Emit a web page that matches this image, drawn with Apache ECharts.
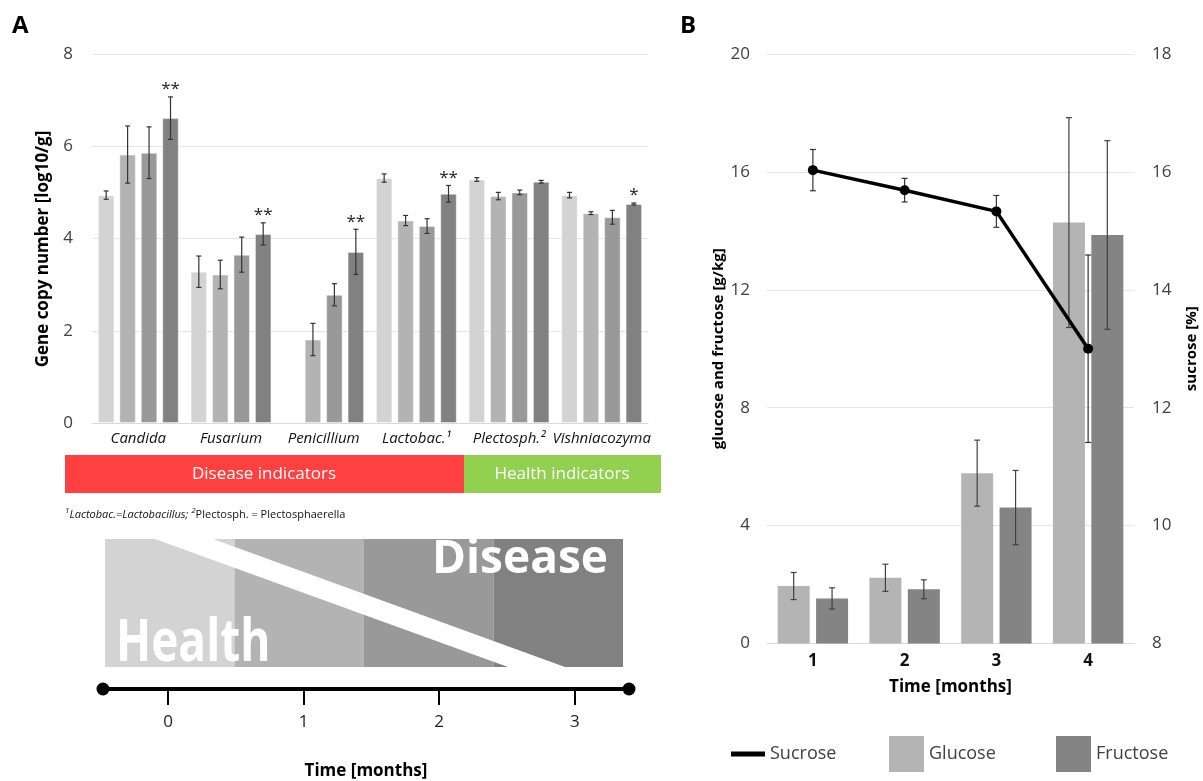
<!DOCTYPE html>
<html>
<head>
<meta charset="utf-8">
<script src="https://cdn.jsdelivr.net/npm/echarts@6/dist/echarts.min.js"></script>
<style>
html,body{margin:0;padding:0;background:#fff;}
#chart{width:1203px;height:781px;}
</style>
</head>
<body>
<div id="chart"></div>
<script>
// ---------- Panel A data ----------
const categoriesA = ['Candida', 'Fusarium', 'Penicillium', 'Lactobac.\u00B9', 'Plectosph.\u00B2', 'Vishniacozyma'];
const month0 = [4.94, 3.28, null, 5.31, 5.28, 4.94];
const month1 = [5.82, 3.22, 1.81, 4.39, 4.92, 4.55];
const month2 = [5.86, 3.65, 2.78, 4.27, 5.00, 4.46];
const month3 = [6.61, 4.10, 3.71, 4.97, 5.23, 4.75];
const err0 = [0.09, 0.34, null, 0.09, 0.04, 0.06];
const err1 = [0.62, 0.31, 0.35, 0.11, 0.08, 0.03];
const err2 = [0.56, 0.38, 0.24, 0.16, 0.05, 0.15];
const err3 = [0.46, 0.24, 0.49, 0.18, 0.03, 0.02];
const signif3 = ['**', '**', '**', '**', '', '*'];
const yTicksA = [0, 2, 4, 6, 8];

// diagram / timeline
const stages = ['0', '1', '2', '3'];
const stageLevel = [1, 1, 1, 1];
const timelineMonths = [0, 1, 2, 3];

// ---------- Panel B data ----------
const timeB = ['1', '2', '3', '4'];
const glucose = [1.95, 2.23, 5.78, 14.28];
const glucoseErr = [0.46, 0.46, 1.12, 3.56];
const fructose = [1.53, 1.84, 4.61, 13.86];
const fructoseErr = [0.36, 0.32, 1.26, 3.20];
const sucrose = [16.03, 15.69, 15.33, 13.00];
const sucroseErr = [0.35, 0.20, 0.27, 1.59];

// ---------- styles ----------
const FONT = '"Open Sans", "Noto Sans", sans-serif';
const greys = ['#d3d3d3', '#b3b3b3', '#999999', '#818181'];
const tickColor = '#404040';
const barWA = 16.5, gapA = 0.30;
const barWB = 32, gapB = 0.20;

const chart = echarts.init(document.getElementById('chart'), null, {renderer: 'canvas'});

function errRenderer(offset, errs, sigs, color, cap) {
  return function (params, api) {
    const i = params.dataIndex;
    const v = api.value(1);
    const e = errs[i];
    if (v == null || isNaN(v) || e == null) return null;
    const c = api.value(0);
    const p = api.coord([c, v]);
    const t = api.coord([c, v + e]);
    const b = api.coord([c, v - e]);
    const x = p[0] + offset;
    const ls = {stroke: color, lineWidth: 1.2};
    const children = [
      {type: 'line', shape: {x1: x, y1: t[1], x2: x, y2: b[1]}, style: ls},
      {type: 'line', shape: {x1: x - cap, y1: t[1], x2: x + cap, y2: t[1]}, style: ls},
      {type: 'line', shape: {x1: x - cap, y1: b[1], x2: x + cap, y2: b[1]}, style: ls}
    ];
    if (sigs && sigs[i]) {
      children.push({type: 'text', x: x, y: t[1] - 7.5,
        style: {text: sigs[i], font: '17px ' + FONT, fill: '#222',
          textAlign: 'center', textVerticalAlign: 'middle', align: 'center', verticalAlign: 'middle'}});
    }
    return {type: 'group', children: children};
  };
}

const seriesA = [month0, month1, month2, month3];
const errsA = [err0, err1, err2, err3];
const series = [];
seriesA.forEach((vals, k) => {
  series.push({
    type: 'bar', name: 'Month ' + k, xAxisIndex: 0, yAxisIndex: 0,
    data: vals.map(v => v == null ? '-' : v),
    barWidth: barWA, barGap: (gapA * 100) + '%',
    itemStyle: {color: greys[k], borderColor: 'rgba(255,255,255,0.45)', borderWidth: 1},
    z: 2
  });
});
seriesA.forEach((vals, k) => {
  const offset = (k - 1.5) * barWA * (1 + gapA);
  series.push({
    type: 'custom', xAxisIndex: 0, yAxisIndex: 0, z: 5,
    data: vals.map((v, i) => [i, v == null ? NaN : v]),
    encode: {x: 0, y: 1},
    renderItem: errRenderer(offset, errsA[k], k === 3 ? signif3 : null, '#333', 2.5)
  });
});

// Panel B
series.push({
  type: 'bar', name: 'Glucose', xAxisIndex: 1, yAxisIndex: 1, data: glucose,
  barWidth: barWB, barGap: (gapB * 100) + '%', itemStyle: {color: '#b4b4b4'}, z: 2
});
series.push({
  type: 'bar', name: 'Fructose', xAxisIndex: 1, yAxisIndex: 1, data: fructose,
  barWidth: barWB, barGap: (gapB * 100) + '%', itemStyle: {color: '#848484'}, z: 2
});
const offB = barWB * (1 + gapB) / 2;
series.push({
  type: 'custom', xAxisIndex: 1, yAxisIndex: 1, z: 5,
  data: glucose.map((v, i) => [i, v]), encode: {x: 0, y: 1},
  renderItem: errRenderer(-offB, glucoseErr, null, '#404040', 3)
});
series.push({
  type: 'custom', xAxisIndex: 1, yAxisIndex: 1, z: 5,
  data: fructose.map((v, i) => [i, v]), encode: {x: 0, y: 1},
  renderItem: errRenderer(offB, fructoseErr, null, '#404040', 3)
});
series.push({
  type: 'custom', xAxisIndex: 1, yAxisIndex: 2, z: 6,
  data: sucrose.map((v, i) => [i, v]), encode: {x: 0, y: 1},
  renderItem: errRenderer(0, sucroseErr, null, '#333', 3)
});
series.push({
  type: 'line', name: 'Sucrose', xAxisIndex: 1, yAxisIndex: 2, data: sucrose,
  lineStyle: {color: '#000', width: 3.5}, itemStyle: {color: '#000'},
  symbol: 'circle', symbolSize: 10, z: 7
});

// Diagram blocks
series.push({
  type: 'bar', xAxisIndex: 2, yAxisIndex: 3,
  data: stageLevel.map((v, i) => ({value: v, itemStyle: {color: greys[i]}})),
  barCategoryGap: 0, barWidth: '100%', z: 1, silent: true
});

const option = {
  animation: false,
  backgroundColor: '#fff',
  textStyle: {fontFamily: FONT},
  grid: [
    {left: 92, top: 54, width: 556, height: 369},
    {left: 767, top: 54, width: 367, height: 589.5},
    {left: 105, top: 539, width: 518, height: 128},
    {left: 103, top: 680, width: 526, height: 10}
  ],
  xAxis: [
    {type: 'category', gridIndex: 0, data: categoriesA,
      axisLine: {lineStyle: {color: '#d9d9d9', width: 1}}, axisTick: {show: false},
      axisLabel: {fontFamily: FONT, fontStyle: 'italic', fontSize: 15, color: '#111', margin: 8, interval: 0}},
    {type: 'category', gridIndex: 1, data: timeB,
      axisLine: {lineStyle: {color: '#d9d9d9', width: 1}}, axisTick: {show: false},
      axisLabel: {fontFamily: FONT, fontWeight: 'bold', fontSize: 17, color: '#111', margin: 9},
      name: 'Time [months]', nameLocation: 'middle', nameGap: 35,
      nameTextStyle: {fontFamily: FONT, fontWeight: 'bold', fontSize: 17, color: '#000'}},
    {type: 'category', gridIndex: 2, data: stages, show: false},
    {type: 'value', gridIndex: 3, min: -0.48, max: 3.4,
      axisLine: {show: true, lineStyle: {color: '#000', width: 4}, symbol: ['circle', 'circle'], symbolSize: [13, 13]},
      axisTick: {show: true, length: 16, lineStyle: {color: '#000', width: 2}, customValues: timelineMonths},
      axisLabel: {fontFamily: FONT, fontSize: 17, color: '#222', margin: 25, customValues: timelineMonths},
      splitLine: {show: false},
      name: 'Time [months]', nameLocation: 'middle', nameGap: 74,
      nameTextStyle: {fontFamily: FONT, fontWeight: 'bold', fontSize: 17, color: '#000'}}
  ],
  yAxis: [
    {type: 'value', gridIndex: 0, min: yTicksA[0], max: yTicksA[yTicksA.length - 1], interval: 2,
      axisLine: {show: false}, axisTick: {show: false},
      axisLabel: {fontFamily: FONT, fontSize: 17, color: tickColor, margin: 19},
      splitLine: {lineStyle: {color: '#e4e4e4', width: 1}},
      name: 'Gene copy number [log10/g]', nameLocation: 'middle', nameRotate: 90, nameGap: 40,
      nameTextStyle: {fontFamily: FONT, fontWeight: 'bold', fontSize: 17, color: '#000', padding: [0, 21, 0, 0]}},
    {type: 'value', gridIndex: 1, min: 0, max: 20, interval: 4,
      axisLine: {show: false}, axisTick: {show: false},
      axisLabel: {fontFamily: FONT, fontSize: 17, color: tickColor, margin: 17},
      splitLine: {lineStyle: {color: '#e4e4e4', width: 1}},
      name: 'glucose and fructose [g/kg]', nameLocation: 'middle', nameRotate: 90, nameGap: 41,
      nameTextStyle: {fontFamily: FONT, fontWeight: 'bold', fontSize: 15, color: '#000'}},
    {type: 'value', gridIndex: 1, min: 8, max: 18, interval: 2, position: 'right',
      axisLine: {show: false}, axisTick: {show: false},
      axisLabel: {fontFamily: FONT, fontSize: 17, color: tickColor, margin: 18},
      splitLine: {show: false},
      name: 'sucrose [%]', nameLocation: 'middle', nameRotate: 90, nameGap: 50,
      nameTextStyle: {fontFamily: FONT, fontWeight: 'bold', fontSize: 15, color: '#000'}},
    {type: 'value', gridIndex: 2, min: 0, max: 1, show: false},
    {type: 'value', gridIndex: 3, min: 0, max: 1, show: false}
  ],
  legend: [
    {data: [{name: 'Sucrose', icon: 'rect'}], left: 726, top: 731, itemWidth: 34, itemHeight: 5,
      textStyle: {fontFamily: FONT, fontSize: 18, color: '#404040', lineHeight: 36, padding: [0, 0, 0, 0]}},
    {data: [{name: 'Glucose', icon: 'rect'}], left: 884, top: 731, itemWidth: 35, itemHeight: 36,
      textStyle: {fontFamily: FONT, fontSize: 18, color: '#404040', lineHeight: 36, padding: [0, 0, 0, 0]}},
    {data: [{name: 'Fructose', icon: 'rect'}], left: 1051, top: 731, itemWidth: 35, itemHeight: 36,
      textStyle: {fontFamily: FONT, fontSize: 18, color: '#404040', lineHeight: 36, padding: [0, 0, 0, 0]}}
  ],
  graphic: [
    {type: 'text', x: 12, y: 14, z: 100, style: {text: 'A', font: 'bold 24px ' + FONT, fill: '#000'}},
    {type: 'text', x: 680, y: 14, z: 100, style: {text: 'B', font: 'bold 24px ' + FONT, fill: '#000'}},
    {type: 'rect', z: 100, shape: {x: 65, y: 455, width: 399, height: 38}, style: {fill: '#ff4040'}},
    {type: 'rect', z: 100, shape: {x: 464, y: 455, width: 197, height: 38}, style: {fill: '#92d050'}},
    {type: 'text', x: 264, y: 474, z: 101, style: {text: 'Disease indicators', font: '17px ' + FONT, fill: '#fff',
      textAlign: 'center', textVerticalAlign: 'middle', align: 'center', verticalAlign: 'middle'}},
    {type: 'text', x: 562, y: 474, z: 101, style: {text: 'Health indicators', font: '17px ' + FONT, fill: '#fff',
      textAlign: 'center', textVerticalAlign: 'middle', align: 'center', verticalAlign: 'middle'}},
    {type: 'text', x: 65, y: 507, z: 100, style: {
      text: '{s|1}{i|Lactobac.=Lactobacillus;} {s|2}{n|Plectosph. = Plectosphaerella}',
      font: '11px ' + FONT, fill: '#111',
      rich: {
        s: {fontSize: 8, fontStyle: 'italic', fontFamily: FONT, fill: '#111', verticalAlign: 'top', lineHeight: 16},
        i: {fontSize: 11, fontStyle: 'italic', fontFamily: FONT, fill: '#111', lineHeight: 16},
        n: {fontSize: 11, fontFamily: FONT, fill: '#111', lineHeight: 16}
      }}},
    {type: 'polygon', z: 100, shape: {points: [[155, 539], [213, 539], [565, 667], [508, 667]]},
      style: {fill: '#fff'}},
    {type: 'text', x: 432, y: 560, z: 101, style: {text: 'Disease', font: 'bold 46px ' + FONT, fill: '#fff',
      textAlign: 'left', textVerticalAlign: 'middle', align: 'left', verticalAlign: 'middle'}},
    {type: 'text', x: 116, y: 644, z: 101, scaleY: 1.28, style: {text: 'Health', font: 'bold 46px ' + FONT, fill: '#fff',
      textAlign: 'left', textVerticalAlign: 'middle', align: 'left', verticalAlign: 'middle'}}
  ],
  series: series
};
chart.setOption(option);
</script>
</body>
</html>
